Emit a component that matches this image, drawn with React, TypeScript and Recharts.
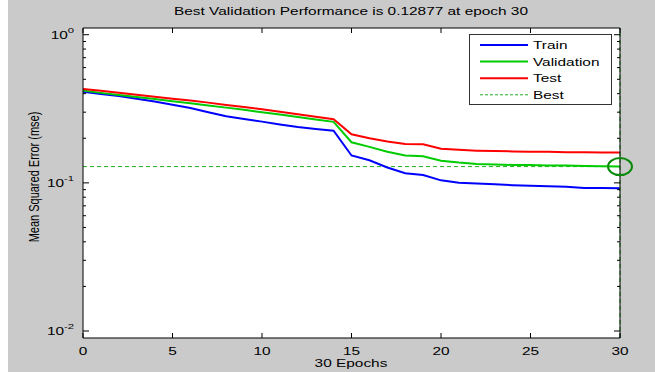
import React from 'react';
import {
  LineChart,
  Line,
  XAxis,
  YAxis,
  CartesianGrid,
  ReferenceLine,
  ReferenceDot,
  Legend,
} from 'recharts';

// ---------- data ----------
const epochs = [0, 1, 2, 3, 4, 5, 6, 7, 8, 9, 10, 11, 12, 13, 14, 15, 16, 17, 18, 19, 20, 21, 22, 23, 24, 25, 26, 27, 28, 29, 30];
const trainMse = [0.412, 0.398, 0.385, 0.37, 0.354, 0.337, 0.32, 0.3, 0.282, 0.27, 0.259, 0.248, 0.238, 0.231, 0.225, 0.153, 0.142, 0.127, 0.116, 0.113, 0.104, 0.1, 0.099, 0.098, 0.0965, 0.0955, 0.095, 0.094, 0.0925, 0.0925, 0.092];
const validationMse = [0.42, 0.405, 0.392, 0.38, 0.368, 0.356, 0.345, 0.333, 0.322, 0.311, 0.3, 0.289, 0.278, 0.268, 0.258, 0.188, 0.175, 0.162, 0.153, 0.151, 0.141, 0.137, 0.134, 0.133, 0.132, 0.132, 0.131, 0.131, 0.13, 0.1295, 0.12877];
const testMse = [0.43, 0.418, 0.405, 0.393, 0.381, 0.37, 0.36, 0.348, 0.336, 0.325, 0.314, 0.302, 0.29, 0.279, 0.269, 0.213, 0.2, 0.19, 0.183, 0.182, 0.17, 0.167, 0.165, 0.164, 0.163, 0.162, 0.162, 0.161, 0.161, 0.16, 0.16];
const xTicks = [0, 5, 10, 15, 20, 25, 30];
const yMajorTicks = [0.01, 0.1, 1];
const yExponents = ['-2', '-1', '0'];
const yMinorTicks = [0.02, 0.03, 0.04, 0.05, 0.06, 0.07, 0.08, 0.09, 0.2, 0.3, 0.4, 0.5, 0.6, 0.7, 0.8, 0.9];
const bestEpoch = 30;
const bestValue = 0.12877;
const seriesNames = ['Train', 'Validation', 'Test', 'Best'];
const titleText = 'Best Validation Performance is 0.12877 at epoch 30';
const xLabelText = '30 Epochs';
const yLabelText = 'Mean Squared Error  (mse)';

const data = epochs.map((e, i) => ({
  epoch: e,
  train: trainMse[i],
  validation: validationMse[i],
  test: testMse[i],
}));
const yAllTicks = [...yMinorTicks, ...yMajorTicks].sort((a, b) => a - b);

// ---------- style ----------
const W = 647;
const H = 372;
const Y_MIN = 0.00897;
const Y_MAX = 1.11;
const SX = 1.4;
const FONT = '"Liberation Sans", Arial, Helvetica, sans-serif';
const BLUE = '#0000ff';
const GREEN = '#00cc00';
const RED = '#ff0000';
const BEST = '#22b022';
const CIRCLE = '#0a8a0a';
const BG = '#cacaca';
const seriesColors = [BLUE, GREEN, RED, BEST];

const majorIndex = (v: number) => yMajorTicks.findIndex((m) => Math.abs(m - v) / m < 1e-6);

const BottomTick = (props: any) => {
  const { x, y, payload } = props;
  return (
    <g>
      <line x1={x} x2={x} y1={y} y2={y - 5} stroke="#000" />
      <text
        transform={`translate(${x},${y + 17}) scale(${SX},1)`}
        textAnchor="middle"
        fontSize={11}
        fontFamily={FONT}
        fill="#000"
      >
        {payload.value}
      </text>
    </g>
  );
};

const TopTick = (props: any) => {
  const { x, y } = props;
  return <line x1={x} x2={x} y1={y} y2={y + 5} stroke="#000" />;
};

const LeftTick = (props: any) => {
  const { x, y, payload } = props;
  const mi = majorIndex(payload.value);
  const major = mi >= 0;
  return (
    <g>
      <line x1={x} x2={x + (major ? 6 : 3)} y1={y} y2={y} stroke="#000" />
      {major && (
        <text
          transform={`translate(${x - 9},${y + 4}) scale(${SX},1)`}
          textAnchor="end"
          fontSize={11}
          fontFamily={FONT}
          fill="#000"
        >
          <tspan>10</tspan>
          <tspan dy={-6} fontSize={8}>
            {yExponents[mi]}
          </tspan>
        </text>
      )}
    </g>
  );
};

const RightTick = (props: any) => {
  const { x, y, payload } = props;
  const major = majorIndex(payload.value) >= 0;
  return <line x1={x} x2={x - (major ? 6 : 3)} y1={y} y2={y} stroke="#000" />;
};

const LegendBox = () => (
  <svg width={143} height={71} style={{ display: 'block' }}>
    <rect x={0.5} y={0.5} width={142} height={70} fill="#ffffff" stroke="#333333" />
    {seriesNames.map((name, i) => {
      const cy = 11 + i * 16.6;
      const dashed = i === 3;
      return (
        <g key={name}>
          <line
            x1={11}
            x2={59}
            y1={cy}
            y2={cy}
            stroke={seriesColors[i]}
            strokeWidth={dashed ? 1 : 2}
            strokeDasharray={dashed ? '3 2' : undefined}
          />
          <text
            transform={`translate(64,${cy + 4}) scale(${SX},1)`}
            fontSize={11}
            fontFamily={FONT}
            fill="#000"
          >
            {name}
          </text>
        </g>
      );
    })}
  </svg>
);

export default function App() {
  return (
    <div style={{ position: 'relative', width: 655, height: 372, background: '#ffffff', overflow: 'hidden' }}>
      <style>{`body{margin:0;overflow:hidden;}`}</style>
      <div style={{ position: 'absolute', left: 8, top: 0, width: W, height: H, background: BG }}>
        <LineChart width={W} height={H} data={data} margin={{ top: 27, right: 34, bottom: 0, left: 0 }}>
          <CartesianGrid
            xAxisId="b"
            yAxisId="l"
            horizontal={false}
            vertical={false}
            fill="#ffffff"
            fillOpacity={1}
            stroke="none"
          />
          <XAxis
            xAxisId="b"
            dataKey="epoch"
            type="number"
            domain={[0, 30]}
            ticks={xTicks}
            interval={0}
            height={34}
            tickSize={0}
            tickMargin={0}
            tickLine={false}
            tick={<BottomTick />}
            axisLine={{ stroke: '#000' }}
            allowDataOverflow
          />
          <XAxis
            xAxisId="t"
            orientation="top"
            dataKey="epoch"
            type="number"
            domain={[0, 30]}
            ticks={xTicks}
            interval={0}
            height={1}
            tickSize={0}
            tickMargin={0}
            tickLine={false}
            tick={<TopTick />}
            axisLine={{ stroke: '#000' }}
            allowDataOverflow
          />
          <YAxis
            yAxisId="l"
            type="number"
            scale="log"
            domain={[Y_MIN, Y_MAX]}
            ticks={yAllTicks}
            interval={0}
            width={75}
            tickSize={0}
            tickMargin={0}
            tickLine={false}
            tick={<LeftTick />}
            axisLine={{ stroke: '#000' }}
            allowDataOverflow
          />
          <YAxis
            yAxisId="r"
            orientation="right"
            type="number"
            scale="log"
            domain={[Y_MIN, Y_MAX]}
            ticks={yAllTicks}
            interval={0}
            width={1}
            tickSize={0}
            tickMargin={0}
            tickLine={false}
            tick={<RightTick />}
            axisLine={{ stroke: '#000' }}
            allowDataOverflow
          />
          <ReferenceLine
            xAxisId="b"
            yAxisId="l"
            y={bestValue}
            stroke={BEST}
            strokeWidth={1}
            strokeDasharray="4 3"
          />
          <Line
            xAxisId="b"
            yAxisId="l"
            type="linear"
            dataKey="train"
            stroke={BLUE}
            strokeWidth={2}
            dot={false}
            isAnimationActive={false}
          />
          <Line
            xAxisId="b"
            yAxisId="l"
            type="linear"
            dataKey="validation"
            stroke={GREEN}
            strokeWidth={2}
            dot={false}
            isAnimationActive={false}
          />
          <Line
            xAxisId="b"
            yAxisId="l"
            type="linear"
            dataKey="test"
            stroke={RED}
            strokeWidth={2}
            dot={false}
            isAnimationActive={false}
          />
          <ReferenceLine
            xAxisId="b"
            yAxisId="l"
            x={bestEpoch}
            stroke={BEST}
            strokeWidth={1}
            strokeDasharray="4 3"
          />
          <ReferenceDot
            xAxisId="b"
            yAxisId="l"
            x={bestEpoch}
            y={bestValue}
            ifOverflow="visible"
            shape={(p: any) => (
              <ellipse cx={p.cx} cy={p.cy} rx={12} ry={8.5} fill="none" stroke={CIRCLE} strokeWidth={2} />
            )}
          />
          <Legend
            layout="vertical"
            align="center"
            verticalAlign="middle"
            content={() => <LegendBox />}
            wrapperStyle={{ position: 'absolute', left: 461, top: 34, width: 143, height: 71 }}
          />
        </LineChart>
        <svg
          width={W}
          height={H}
          style={{ position: 'absolute', left: 0, top: 0, pointerEvents: 'none' }}
        >
          <text
            transform={`translate(343,15) scale(${SX},1)`}
            textAnchor="middle"
            fontSize={11}
            fontFamily={FONT}
            fill="#000"
          >
            {titleText}
          </text>
          <text
            transform={`translate(343,367) scale(${SX},1)`}
            textAnchor="middle"
            fontSize={11}
            fontFamily={FONT}
            fill="#000"
          >
            {xLabelText}
          </text>
          <text
            transform={`translate(31,177) scale(${SX},1) rotate(-90)`}
            textAnchor="middle"
            fontSize={11}
            fontFamily={FONT}
            fill="#000"
          >
            {yLabelText}
          </text>
        </svg>
      </div>
    </div>
  );
}
